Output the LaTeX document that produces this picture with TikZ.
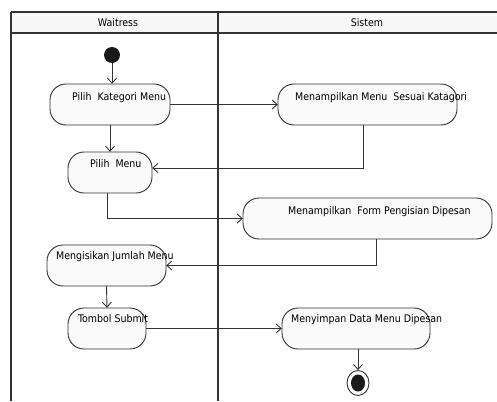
\documentclass[tikz,border=0pt]{standalone}
\usepackage{fontspec}
\setmainfont{DejaVu Sans Condensed}
\usetikzlibrary{arrows.meta,calc,shapes.geometric}
\definecolor{lane}{HTML}{F7F7F7}
\definecolor{act}{HTML}{FAFAFA}
\definecolor{ink}{HTML}{333333}
\tikzset{
  every picture/.style={x=1pt,y=-1pt},
  lanebar/.style={draw=ink,line width=1.6pt},
  activity/.style={draw=ink,fill=act,line width=0.9pt,rounded corners=16pt},
  anchorbox/.style={rectangle,inner sep=0pt,draw=none,fill=none},
  label/.style={anchor=west,inner sep=0pt,font=\fontsize{10.5}{12}\selectfont,text=black},
  flow/.style={draw=ink,line width=0.9pt,-{Straight Barb[length=5pt,width=9pt]}},
  lanetitle/.style={font=\fontsize{10.5}{12}\selectfont,inner sep=0pt}
}
% rounded activity box plus an invisible named node over it
\newcommand{\activity}[5]{%
  \path[activity] (#2,#3) rectangle (#4,#5);
  \node[anchorbox,minimum width={#4-#2},minimum height={#5-#3}]
    (#1) at ({(#2+#4)/2},{(#3+#5)/2}) {};
}
\begin{document}
\begin{tikzpicture}
\useasboundingbox (0,0) rectangle (497,401);
\fill[white] (0,0) rectangle (497,401);
% swimlanes
\path[fill=lane] (11,12) rectangle (497,33);
\draw[lanebar] (11,12) -- (497,12);
\draw[lanebar] (11,33) -- (497,33);
\draw[lanebar] (11,12) -- (11,401);
\draw[lanebar] (218,12) -- (218,401);
\node[lanetitle] (lw) at (118,23) {Waitress};
\node[lanetitle] (ls) at (367,23) {Sistem};
% activities
\activity{a1}{50}{84}{170}{125}
\activity{a2}{68}{152}{152}{193}
\activity{b1}{278}{84}{457}{125}
\activity{b2}{243}{198}{492}{239}
\activity{a3}{47}{245}{166}{286}
\activity{a4}{68}{308}{146}{349}
\activity{b3}{282}{308}{430}{349}
\node[label] (t1) at (72,98) {Pilih\ \ Kategori Menu};
\node[label] (t2) at (90,164) {Pilih\ \ Menu};
\node[label] (t3) at (295,98) {Menampilkan Menu\ \ Sesuai Katagori};
\node[label] (t4) at (288,212) {Menampilkan\ \ Form Pengisian Dipesan};
\node[label] (t5) at (56,257) {Mengisikan Jumlah Menu};
\node[label] (t6) at (78,319) {Tombol Submit};
\node[label] (t7) at (291,320) {Menyimpan Data Menu Dipesan};
% start and end
\node[circle,fill=black!90,minimum size=16pt,inner sep=0pt] (init) at (112,55) {};
\node[ellipse,draw=ink,line width=0.9pt,fill=white,minimum width=22pt,minimum height=25pt,inner sep=0pt] (fin) at (358,383) {};
\node[ellipse,fill=black!90,minimum width=14pt,minimum height=17pt,inner sep=0pt] (finc) at (358,383) {};
% control flow
\draw[flow] (init) -- (init |- a1.north);
\draw[flow] (a1.south) -- (a2.north);
\draw[flow] (a1.east) -- (b1.west);
\draw[flow] ($(b1.south)+(-4,0)$) |- ($(a2.east)+(0,-4.5)$);
\draw[flow] ($(a2.south)+(-3,0)$) |- (b2.west);
\draw[flow] ($(b2.south)+(8.5,0)$) |- (a3.east);
\draw[flow] (a3.south) -- (a4.north);
\draw[flow] (a4.east) -- (b3.west);
\draw[flow] ($(b3.south)+(2,0)$) -- (fin.north);
\end{tikzpicture}
\end{document}
